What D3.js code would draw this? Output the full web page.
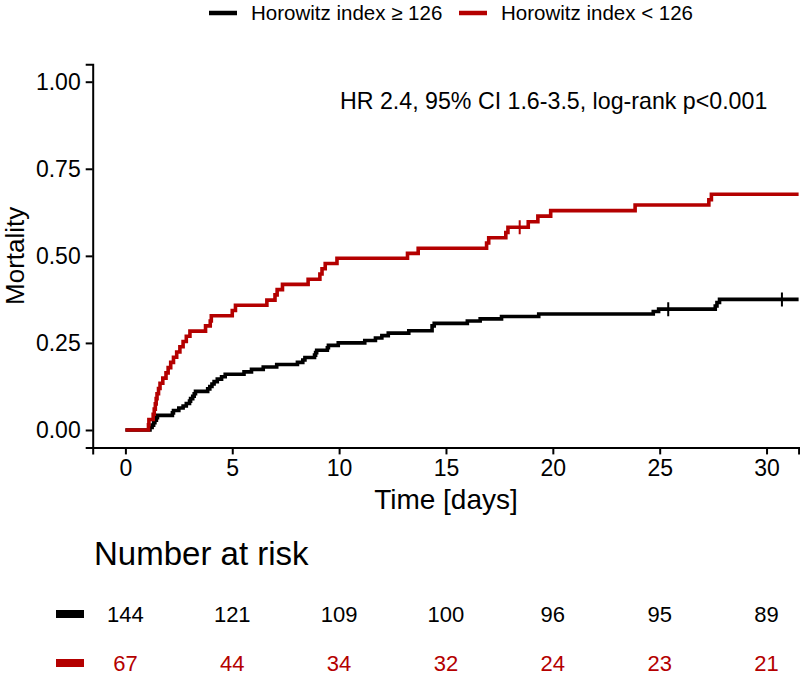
<!DOCTYPE html>
<html>
<head>
<meta charset="utf-8">
<script src="https://cdn.jsdelivr.net/npm/d3@7"></script>
<style>
  body { margin: 0; background: #fff; }
  svg { display: block; font-family: "Liberation Sans", Arial, sans-serif; }
</style>
</head>
<body>
<svg id="chart"></svg>
<script>
// Groups
const groups = ["Horowitz index \u2265 126", "Horowitz index < 126"];
const colors = ["#000000", "#b40000"];

// Cumulative mortality steps: [time (days), mortality]
const stepsHigh = [
  [0, 0], [1.15, 0.007], [1.25, 0.014], [1.32, 0.021], [1.38, 0.028], [1.45, 0.035], [1.5, 0.042],
  [2.2, 0.049], [2.25, 0.056], [2.5, 0.063], [2.7, 0.069], [2.85, 0.076], [3.0, 0.083],
  [3.05, 0.090], [3.15, 0.097], [3.22, 0.104], [3.28, 0.111],
  [3.85, 0.118], [3.95, 0.125], [4.05, 0.132], [4.15, 0.139], [4.3, 0.146], [4.5, 0.153], [4.67, 0.160],
  [5.55, 0.167], [5.9, 0.174], [6.45, 0.181], [7.08, 0.188],
  [8.05, 0.194], [8.3, 0.201], [8.4, 0.208], [8.85, 0.215], [8.9, 0.222], [8.95, 0.229],
  [9.45, 0.236], [9.5, 0.243], [9.96, 0.250],
  [11.2, 0.257], [11.7, 0.264], [12.0, 0.271], [12.3, 0.278], [13.26, 0.285],
  [14.35, 0.299], [14.45, 0.306], [16.0, 0.313], [16.6, 0.319], [17.6, 0.326], [19.34, 0.333],
  [24.7, 0.340], [24.95, 0.347], [27.6, 0.356], [27.68, 0.366], [27.8, 0.375]
];
const stepsLow = [
  [0, 0], [1.08, 0.015], [1.10, 0.030], [1.30, 0.045], [1.35, 0.060], [1.40, 0.075],
  [1.44, 0.090], [1.48, 0.104], [1.55, 0.119], [1.62, 0.134], [1.75, 0.149], [1.9, 0.164],
  [2.0, 0.179], [2.12, 0.194], [2.25, 0.209], [2.4, 0.224], [2.55, 0.239], [2.7, 0.254],
  [2.85, 0.269], [3.02, 0.284], [3.75, 0.299], [3.97, 0.313], [4.02, 0.328],
  [5.0, 0.343], [5.15, 0.358], [6.62, 0.373], [7.0, 0.388], [7.1, 0.403], [7.35, 0.418],
  [8.55, 0.433], [9.1, 0.448], [9.2, 0.463], [9.35, 0.478], [9.9, 0.493],
  [13.2, 0.507], [13.7, 0.522], [16.9, 0.537], [17.0, 0.552], [17.8, 0.567], [17.9, 0.582],
  [18.85, 0.598], [19.3, 0.614], [19.9, 0.630], [23.85, 0.646], [27.3, 0.661], [27.42, 0.677]
];
// Censored observations (marked "+")
const censorHigh = [[25.4, 0.347], [30.72, 0.375]];
const censorLow = [[18.45, 0.582]];

// Number at risk
const riskTimes = [0, 5, 10, 15, 20, 25, 30];
const riskHigh = [144, 121, 109, 100, 96, 95, 89];
const riskLow = [67, 44, 34, 32, 24, 23, 21];

const yTicks = [0, 0.25, 0.5, 0.75, 1];
const statText = "HR 2.4, 95% CI 1.6-3.5, log-rank p<0.001";

const width = 800, height = 675;
const xMax = 31.5;

const svg = d3.select("#chart")
    .attr("width", width)
    .attr("height", height)
    .attr("viewBox", [0, 0, width, height]);

const x = d3.scaleLinear().domain([-1.53, xMax]).range([92.7, 798.6]);
const y = d3.scaleLinear().domain([-0.05, 1.05]).range([447.4, 64.3]);

// Axes
const xAxis = svg.append("g")
    .attr("transform", `translate(0,${y(-0.05)})`)
    .call(d3.axisBottom(x).tickValues(riskTimes).tickSize(7).tickPadding(5).tickFormat(d3.format("d")));
const yAxis = svg.append("g")
    .attr("transform", `translate(${x(-1.53)},0)`)
    .call(d3.axisLeft(y).tickValues(yTicks).tickSize(7).tickPadding(5).tickFormat(d3.format(".2f")));

[xAxis, yAxis].forEach(a => {
    a.select(".domain").attr("stroke", "#000").attr("stroke-width", 2);
    a.selectAll(".tick line").attr("stroke", "#000").attr("stroke-width", 2);
    a.selectAll(".tick text")
        .attr("fill", "#000")
        .attr("font-size", 23)
        .attr("font-family", "Liberation Sans, Arial, sans-serif");
});

// Axis titles
svg.append("text")
    .attr("x", x(15))
    .attr("y", 509)
    .attr("text-anchor", "middle")
    .attr("font-size", 28)
    .text("Time [days]");

svg.append("text")
    .attr("transform", `translate(24,${y(0.5)}) rotate(-90)`)
    .attr("text-anchor", "middle")
    .attr("font-size", 26)
    .text("Mortality");

// Curves
const line = d3.line()
    .x(d => x(d[0]))
    .y(d => y(d[1]))
    .curve(d3.curveStepAfter);

const series = [
    {steps: stepsHigh, censor: censorHigh, color: colors[0]},
    {steps: stepsLow, censor: censorLow, color: colors[1]}
];

series.forEach(s => {
    const pts = s.steps.concat([[xMax, s.steps[s.steps.length - 1][1]]]);
    svg.append("path")
        .datum(pts)
        .attr("fill", "none")
        .attr("stroke", s.color)
        .attr("stroke-width", 3.6)
        .attr("d", line);

    svg.append("g")
        .selectAll("path")
        .data(s.censor)
        .join("path")
        .attr("stroke", s.color)
        .attr("stroke-width", 2)
        .attr("d", d => `M${x(d[0]) - 6},${y(d[1])}H${x(d[0]) + 6}M${x(d[0])},${y(d[1]) - 7}V${y(d[1]) + 7}`);
});

// Annotation
svg.append("text")
    .attr("x", 340)
    .attr("y", 109)
    .attr("font-size", 23.2)
    .text(statText);

// Legend
const legendX = [209, 459];
groups.forEach((g, i) => {
    svg.append("line")
        .attr("x1", legendX[i]).attr("x2", legendX[i] + 28)
        .attr("y1", 13).attr("y2", 13)
        .attr("stroke", colors[i])
        .attr("stroke-width", 4.5);
    svg.append("text")
        .attr("x", legendX[i] + 42)
        .attr("y", 20)
        .attr("font-size", 20.5)
        .text(g);
});

// Number at risk table
svg.append("text")
    .attr("x", 94)
    .attr("y", 565)
    .attr("font-size", 33)
    .text("Number at risk");

const riskRows = [riskHigh, riskLow];
const rowY = [614, 663];
riskRows.forEach((row, i) => {
    svg.append("line")
        .attr("x1", 56).attr("x2", 84)
        .attr("y1", rowY[i]).attr("y2", rowY[i])
        .attr("stroke", colors[i])
        .attr("stroke-width", 8);
    svg.append("g")
        .selectAll("text")
        .data(row)
        .join("text")
        .attr("x", (d, j) => x(riskTimes[j]))
        .attr("y", rowY[i] + 8)
        .attr("text-anchor", "middle")
        .attr("font-size", 22)
        .attr("fill", colors[i])
        .text(d => d);
});
</script>
</body>
</html>
